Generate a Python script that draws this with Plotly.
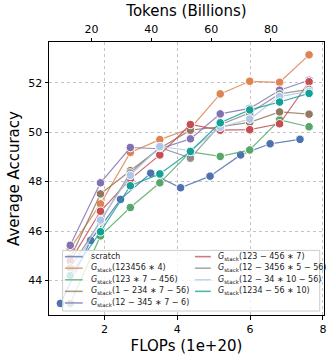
import plotly.graph_objects as go

# ---- data -------------------------------------------------------------
# FLOPs (1e+20) at each evaluated checkpoint
x_scratch = [0.79, 1.62, 2.44, 3.27, 4.09, 4.90, 5.74, 6.55, 7.37]
x_stack = [1.06, 1.89, 2.71, 3.52, 4.36, 5.18, 5.99, 6.81, 7.62]

# billions of training tokens per 1e+20 FLOPs (top axis)
tokens_per_flop = 12.17

acc_scratch = [43.07, 45.62, 47.28, 48.34, 47.75, 48.22, 49.08, 49.53, 49.71]
acc_123456x4 = [45.3, 47.1, 49.18, 49.7, 50.15, 51.55, 52.06, 52.02, 53.13]
acc_123x7_456 = [43.07, 45.8, 46.95, 47.95, 49.2, 49.02, 49.28, 50.5, 50.22]
acc_1_234x7_56 = [44.9, 47.5, 48.44, 49.35, 50.08, 50.22, 50.4, 50.82, 50.73]
acc_12_345x7_6 = [45.42, 47.95, 49.38, 49.33, 49.73, 50.74, 50.96, 51.7, 52.1]
acc_123_456x7 = [44.78, 46.8, 48.1, 49.08, 50.31, 50.08, 50.1, 50.34, 52.04]
acc_12_3456x5_56 = [44.5, 46.4, 48.35, 49.38, 48.95, 50.3, 50.78, 51.55, 51.73]
acc_12_34x10_56 = [44.2, 46.44, 48.25, 49.42, 49.25, 50.2, 50.53, 51.44, 51.65]
acc_1234_56x10 = [44.2, 45.97, 47.83, 48.31, 49.22, 50.38, 50.9, 51.22, 51.57]

x_ticks = [2, 4, 6, 8]
token_ticks = [20, 40, 60, 80]
y_ticks = [44, 46, 48, 50, 52]

G = "<i>G</i><sub>stack</sub>"
labels = [
    "scratch",
    G + "(123456 ∗ 4)",
    G + "(123 ∗ 7 − 456)",
    G + "(1 − 234 ∗ 7 − 56)",
    G + "(12 − 345 ∗ 7 − 6)",
    G + "(123 − 456 ∗ 7)",
    G + "(12 − 3456 ∗ 5 − 56)",
    G + "(12 − 34 ∗ 10 − 56)",
    G + "(1234 − 56 ∗ 10)",
]
colors = ["#4C72B0", "#DD8452", "#55A868", "#937860", "#8172B3",
          "#C44E52", "#8C8C8C", "#AEC7E8", "#13A096"]
xs = [x_scratch] + [x_stack] * 8
ys = [acc_scratch, acc_123456x4, acc_123x7_456, acc_1_234x7_56, acc_12_345x7_6,
      acc_123_456x7, acc_12_3456x5_56, acc_12_34x10_56, acc_1234_56x10]


def rgba(hex_color, a):
    h = hex_color.lstrip("#")
    r, g, b = int(h[0:2], 16), int(h[2:4], 16), int(h[4:6], 16)
    return f"rgba({r},{g},{b},{a})"


# ---- figure ---------------------------------------------------------
W, H = 330, 355
ML, MR, MT, MB = 49, 4, 42, 37
PW, PH = W - ML - MR, H - MT - MB

fig = go.Figure()
for lab, col, x, y in zip(labels, colors, xs, ys):
    fig.add_trace(go.Scatter(
        x=x, y=y, mode="lines+markers", name=lab, showlegend=False,
        line=dict(color=rgba(col, 0.85), width=1.2),
        marker=dict(color=col, size=8.5, line=dict(color="white", width=1)),
    ))

xr = [0.476, 8.03]
# invisible trace that activates the token axis on top
fig.add_trace(go.Scatter(x=[None], y=[None], xaxis="x2", showlegend=False,
                         hoverinfo="skip"))

axis_style = dict(
    showline=True, linecolor="black", linewidth=1,
    ticks="outside", ticklen=3.5, tickwidth=1, tickcolor="black",
    zeroline=False, tickfont=dict(size=11, color="black"),
)
grid_style = dict(showgrid=True, gridcolor="#c4c4c4", gridwidth=0.7, griddash="dot")

fig.update_layout(
    width=W, height=H,
    margin=dict(l=ML, r=MR, t=MT, b=MB),
    paper_bgcolor="white", plot_bgcolor="white",
    font=dict(family="DejaVu Sans", color="black"),
    showlegend=False,
    xaxis=dict(range=xr, tickvals=x_ticks, mirror=True,
               title=dict(text="FLOPs (1e+20)", font=dict(size=15), standoff=5),
               **axis_style, **grid_style),
    xaxis2=dict(range=[v * tokens_per_flop for v in xr], tickvals=token_ticks,
                overlaying="x", side="top", anchor="y", showgrid=False,
                title=dict(text="Tokens (Billions)", font=dict(size=15), standoff=2),
                **axis_style),
    yaxis=dict(range=[42.6, 53.65], tickvals=y_ticks, mirror=True,
               title=dict(text="Average Accuracy", font=dict(size=15), standoff=5),
               **axis_style, **grid_style),
)


# ---- legend box (two columns) ---------------------------------------
def px(xp):
    return (xp - ML) / PW


def py(yp):
    return (H - MB - yp) / PH


fig.add_shape(type="rect", xref="paper", yref="paper", layer="above",
              x0=px(62.7), x1=px(321.7), y0=py(314), y1=py(252.7),
              line=dict(color="#cccccc", width=1),
              fillcolor="rgba(255,255,255,0.8)")

col_line = [(65, 83, 89), (196, 212, 217)]
rows = [259 + 11.7 * i for i in range(5)]
order = [(0, 0), (0, 1), (0, 2), (0, 3), (0, 4),
         (1, 0), (1, 1), (1, 2), (1, 3)]
for i, (c, r) in enumerate(order):
    x0, x1, xt = col_line[c]
    yy = rows[r]
    fig.add_shape(type="line", xref="paper", yref="paper", layer="above",
                  x0=px(x0), x1=px(x1), y0=py(yy), y1=py(yy),
                  line=dict(color=rgba(colors[i], 0.75), width=1.6))
    fig.add_annotation(xref="paper", yref="paper", x=px(xt), y=py(yy),
                       text=labels[i], showarrow=False, xanchor="left",
                       yanchor="middle", font=dict(size=8, color="#222222"))

fig.write_html("out.html")
